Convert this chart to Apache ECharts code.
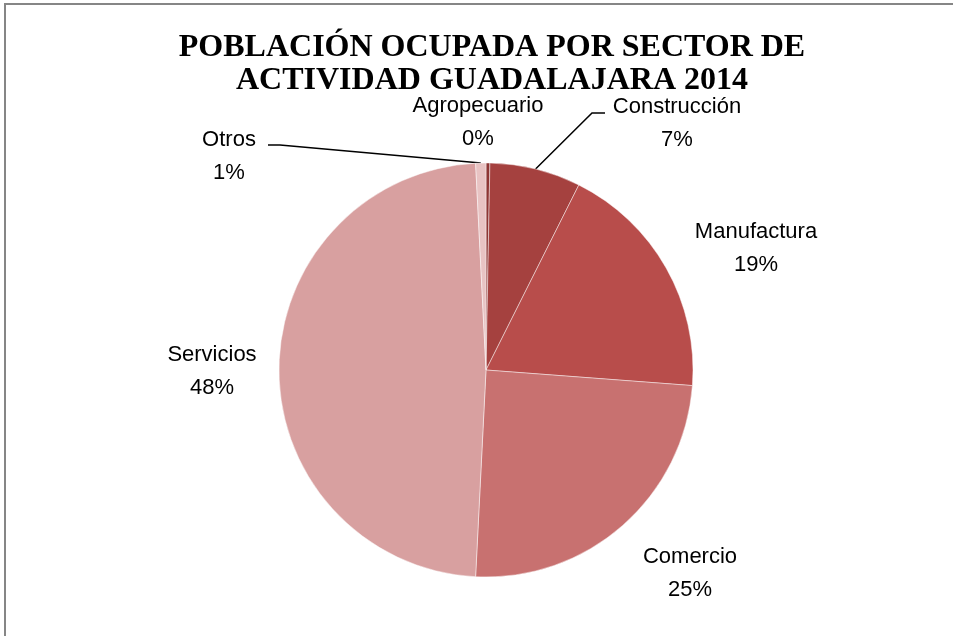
<!DOCTYPE html>
<html>
<head>
<meta charset="utf-8">
<script src="https://cdn.jsdelivr.net/npm/echarts@6/dist/echarts.min.js"></script>
<style>
  html, body { margin: 0; padding: 0; background: #fff; }
  #chart { width: 953px; height: 636px; }
</style>
</head>
<body>
<div id="chart"></div>
<script>
// datos (porcentajes)
const sectores = ['Agropecuario', 'Construcción', 'Manufactura', 'Comercio', 'Servicios', 'Otros'];
const valores = [0.3, 7.1, 18.8, 24.6, 48.4, 0.8];
const colores = ['#8E3634', '#A5413F', '#B84D4B', '#C87170', '#D8A0A0', '#E8C3C3'];

// posicion de cada etiqueta (centro del bloque de texto)
const posEtiqueta = [[478, 122], [677, 123], [756, 248], [690, 573], [212, 371], [229, 156]];
// quiebres de las lineas guia
const quiebres = {
    1: [[592, 113], [605, 113]],
    5: [[280, 145], [268, 145]]
};

const myChart = echarts.init(document.getElementById('chart'));

const option = {
    backgroundColor: '#fff',
    animation: false,
    title: {
        text: 'POBLACIÓN OCUPADA POR SECTOR DE\nACTIVIDAD GUADALAJARA 2014',
        left: 487,
        top: 26,
        textAlign: 'center',
        textStyle: {
            fontFamily: 'Liberation Serif',
            fontWeight: 'bold',
            fontSize: 32,
            lineHeight: 33,
            color: '#000'
        }
    },
    graphic: [{
        type: 'rect',
        shape: { x: 5, y: 4, width: 1000, height: 700 },
        style: { fill: 'none', stroke: '#868686', lineWidth: 2 },
        silent: true
    }],
    series: [{
        type: 'pie',
        center: [486, 370],
        radius: [0, 207],
        startAngle: 90,
        clockwise: true,
        avoidLabelOverlap: false,
        itemStyle: {
            borderColor: 'rgba(255,255,255,0.45)',
            borderWidth: 1
        },
        label: {
            show: true,
            position: 'outside',
            fontFamily: 'Liberation Sans',
            fontSize: 22,
            lineHeight: 33,
            color: '#000',
            align: 'center',
            formatter: function (p) {
                return p.name + '\n' + Math.round(p.value) + '%';
            }
        },
        labelLine: {
            show: false,
            lineStyle: { color: '#000', width: 1.5 }
        },
        labelLayout: function (params) {
            const i = params.dataIndex;
            const pos = posEtiqueta[i];
            const res = { x: pos[0], y: pos[1], align: 'center', verticalAlign: 'middle' };
            if (quiebres[i] && params.labelLinePoints) {
                res.labelLinePoints = [params.labelLinePoints[0], quiebres[i][0], quiebres[i][1]];
            }
            return res;
        },
        data: sectores.map(function (n, i) {
            const d = { name: n, value: valores[i], itemStyle: { color: colores[i] } };
            if (quiebres[i]) {
                d.labelLine = { show: true, length: 20, length2: 10 };
            }
            return d;
        })
    }]
};

myChart.setOption(option);
</script>
</body>
</html>
